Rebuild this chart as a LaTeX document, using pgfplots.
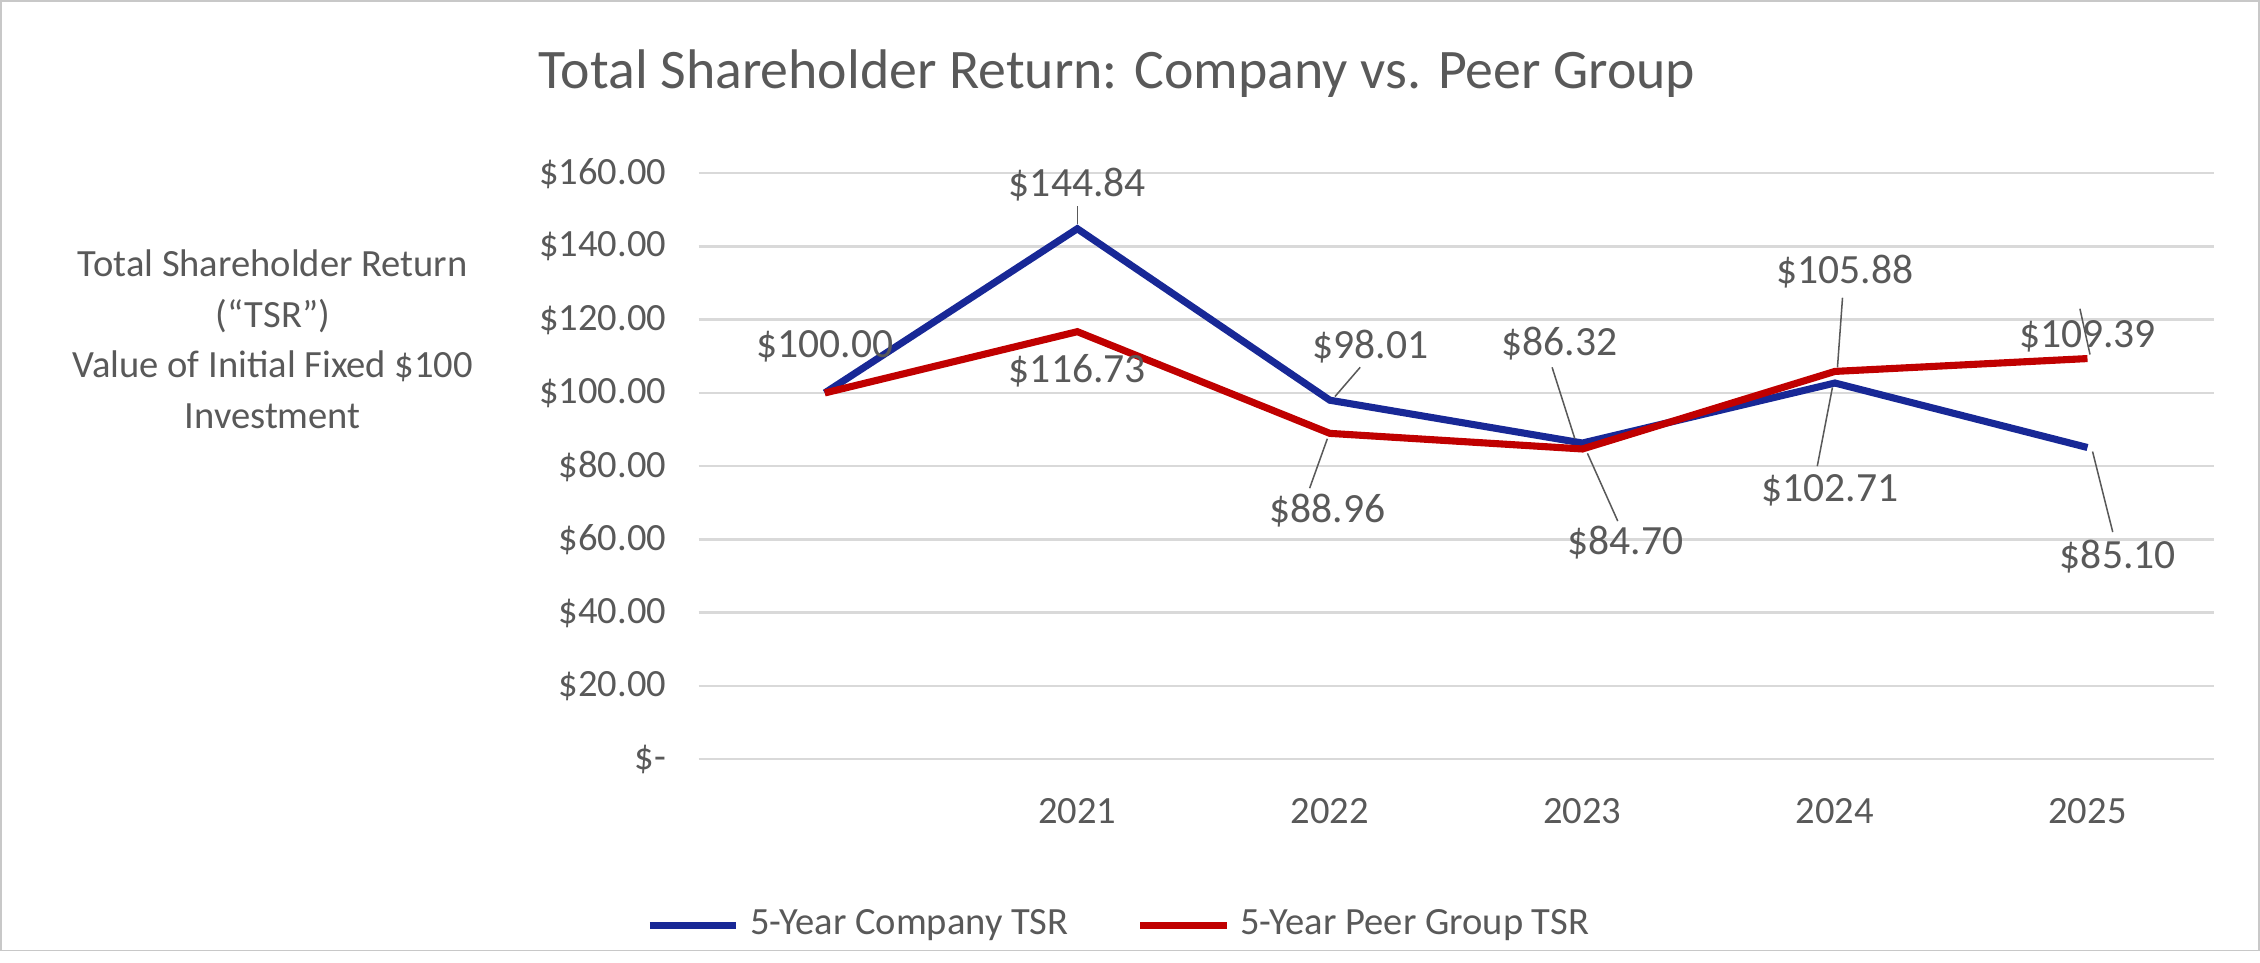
\documentclass[border=0pt]{standalone}
\usepackage{pgfplots}
\pgfplotsset{compat=1.18}
\usepackage{fontspec}
\setmainfont{Carlito}
\definecolor{tg}{RGB}{89,89,89}
\definecolor{cblue}{RGB}{24,40,150}
\definecolor{cred}{RGB}{192,0,0}
\begin{document}
\begin{tikzpicture}[x=1mm,y=1mm]
\draw[draw={rgb,255:red,200;green,200;blue,200},line width=0.3pt] (0.15,0.15) rectangle (156.65,65.95);
\node[tg,font=\fontsize{11}{13}\selectfont] at (77.5,60.9) {Total Shareholder Return: Company vs. Peer Group};
\node[tg,font=\fontsize{7.6}{10}\selectfont,align=center] at (19,42.5) {Total Shareholder Return\\(``TSR'')\\Value of Initial Fixed \$100\\Investment};
\begin{axis}[at={(48.5mm,13.4mm)},anchor=south west,scale only axis,
 width=105mm,height=40.6mm,xmin=-0.5,xmax=5.5,ymin=0,ymax=160,
 axis line style={draw=none},tick style={draw=none},
 ymajorgrids,grid style={draw={rgb,255:red,217;green,217;blue,217},line width=0.5pt},
 ytick={0,20,...,160},
 yticklabels={\$-,\$20.00,\$40.00,\$60.00,\$80.00,\$100.00,\$120.00,\$140.00,\$160.00},
 xtick={0,...,5},xticklabels={,2021,2022,2023,2024,2025},
 ticklabel style={tg,font=\fontsize{7.6}{9}\selectfont},
 yticklabel style={xshift=-1mm},xticklabel style={yshift=-1.5mm},
 legend columns=2,
 legend style={at={(0.28,-0.22)},anchor=north,draw=none,fill=none,
  font=\fontsize{7.6}{9}\selectfont\color{tg},/tikz/every even column/.append style={column sep=4mm}},
 legend image code/.code={\draw[#1,line width=1.4pt] (0,0) -- (6mm,0);},
 clip=false]
\addplot[cblue,line width=1.4pt] coordinates {(0,100) (1,144.84) (2,98.01) (3,86.32) (4,102.71) (5,85.10)};
\addlegendentry{5-Year Company TSR}
\addplot[cred,line width=1.4pt] coordinates {(0,100) (1,116.73) (2,88.96) (3,84.70) (4,105.88) (5,109.39)};
\addlegendentry{5-Year Peer Group TSR}
\begin{scope}[tg,line width=0.3pt]
\draw (axis cs:1,146) -- (axis cs:1,151);
\draw (axis cs:2.02,99) -- (axis cs:2.12,107);
\draw (axis cs:2.97,87.5) -- (axis cs:2.88,107);
\draw (axis cs:1.99,87.5) -- (axis cs:1.92,74);
\draw (axis cs:3.02,83.5) -- (axis cs:3.14,65);
\draw (axis cs:4.01,107) -- (axis cs:4.03,126);
\draw (axis cs:3.99,101.5) -- (axis cs:3.93,80);
\draw (axis cs:5.01,110.5) -- (axis cs:4.97,123);
\draw (axis cs:5.02,84) -- (axis cs:5.1,62);
\end{scope}
\begin{scope}[every node/.style={tg,font=\fontsize{8.2}{10}\selectfont}]
\node at (axis cs:0,112.7) {\$100.00};
\node at (axis cs:1,156.8) {\$144.84};
\node at (axis cs:2.16,112.7) {\$98.01};
\node at (axis cs:2.91,113.5) {\$86.32};
\node at (axis cs:3.98,73.3) {\$102.71};
\node at (axis cs:5.12,55.2) {\$85.10};
\node at (axis cs:1,106) {\$116.73};
\node at (axis cs:1.99,67.8) {\$88.96};
\node at (axis cs:3.17,59.1) {\$84.70};
\node at (axis cs:4.04,133.2) {\$105.88};
\node at (axis cs:5,115.5) {\$109.39};
\end{scope}
\end{axis}
\end{tikzpicture}
\end{document}
